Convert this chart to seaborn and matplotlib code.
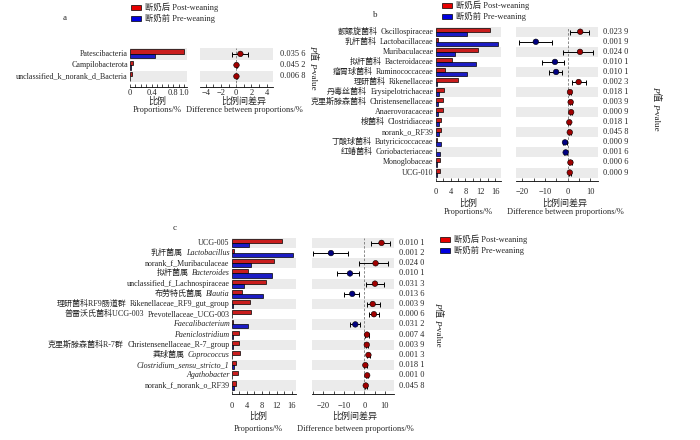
import pandas as pd
import matplotlib
matplotlib.use("Agg")
import matplotlib.pyplot as plt
from matplotlib.patches import Patch
from matplotlib.ticker import MultipleLocator
import seaborn as sns

sns.set_theme(style="white")
plt.rcParams["font.family"] = ["Liberation Serif", "Noto Sans CJK SC"]

POST = "断奶后 Post-weaning"
PRE = "断奶前 Pre-weaning"
RED = "#e60000"
BLUE = "#0000e0"
DOT_RED = "#a00000"
DOT_BLUE = "#000080"
GREY = "#ebebeb"

# panel a - phylum
a_cn = ["", "", ""]
a_lat = ["Patescibacteria", "Campilobacterota", "unclassified_k_norank_d_Bacteria"]
a_ital = [False, False, False]
a_post = [1.0, 0.05, 0.04]
a_pre = [0.46, 0.01, 0.005]
a_diff = [0.55, 0.04, 0.03]
a_lo = [-0.5, -0.05, -0.05]
a_hi = [1.6, 0.13, 0.11]
a_p = ["0.035 6", "0.045 2", "0.006 8"]

# panel b - family
b_cn = ["颤螺旋菌科", "乳杆菌科", "", "拟杆菌科", "瘤胃球菌科", "理研菌科", "丹毒丝菌科",
        "克里斯滕森菌科", "", "梭菌科", "", "丁酸球菌科", "红蝽菌科", "", ""]
b_lat = ["Oscillospiraceae", "Lactobacillaceae", "Muribaculaceae", "Bacteroidaceae",
         "Ruminococcaceae", "Rikenellaceae", "Erysipelotrichaceae", "Christensenellaceae",
         "Anaerovoracaceae", "Clostridiaceae", "norank_o_RF39", "Butyricicoccaceae",
         "Coriobacteriaceae", "Monoglobaceae", "UCG-010"]
b_ital = [False] * 15
b_post = [14.7, 0.5, 11.4, 4.3, 2.6, 6.0, 2.1, 2.0, 2.0, 1.4, 1.3, 0.3, 0.2, 1.2, 1.1]
b_pre = [8.4, 16.8, 5.2, 10.8, 8.5, 0.4, 1.0, 0.7, 0.5, 0.9, 0.8, 1.5, 1.2, 0.3, 0.3]
b_diff = [5.5, -14.0, 5.4, -5.6, -5.1, 4.8, 1.0, 1.3, 1.5, 0.7, 0.9, -1.2, -0.9, 1.2, 0.9]
b_lo = [1.0, -21.3, -2.2, -11.3, -8.0, 2.0, 0.6, 0.8, 1.0, 0.2, 0.4, -2.0, -1.5, 0.7, 0.5]
b_hi = [9.5, -6.9, 11.3, -1.6, -2.3, 8.0, 1.4, 1.8, 2.0, 1.2, 1.4, -0.4, -0.4, 1.7, 1.4]
b_p = ["0.023 9", "0.001 9", "0.024 0", "0.010 1", "0.010 1", "0.002 3", "0.018 1", "0.003 9",
       "0.000 9", "0.018 1", "0.045 8", "0.000 9", "0.001 6", "0.000 6", "0.000 9"]

# panel c - genus
c_cn = ["", "乳杆菌属", "", "拟杆菌属", "", "布劳特氏菌属", "理研菌科RF9肠道群",
        "普雷沃氏菌科UCG-003", "", "", "克里斯滕森菌科R-7群", "粪球菌属", "", "", ""]
c_lat = ["UCG-005", "Lactobacillus", "norank_f_Muribaculaceae", "Bacteroides",
         "unclassified_f_Lachnospiraceae", "Blautia", "Rikenellaceae_RF9_gut_group",
         "Prevotellaceae_UCG-003", "Faecalibacterium", "Paeniclostridium",
         "Christensenellaceae_R-7_group", "Coprococcus", "Clostridium_sensu_stricto_1",
         "Agathobacter", "norank_f_norank_o_RF39"]
c_ital = [False, True, False, True, False, True, False, False, True, True, False, True,
          True, True, False]
c_post = [13.4, 0.5, 11.2, 4.3, 9.2, 2.8, 4.9, 5.2, 0.3, 2.0, 1.9, 2.2, 1.2, 1.7, 1.2]
c_pre = [4.5, 16.4, 5.2, 10.7, 3.3, 8.4, 0.3, 0.1, 4.3, 0.4, 0.4, 0.2, 0.5, 0.1, 0.5]
c_diff = [8.4, -16.3, 5.5, -7.0, 5.2, -5.9, 4.1, 4.7, -4.4, 1.3, 1.2, 2.0, 0.5, 1.4, 0.7]
c_lo = [3.3, -24.9, -2.4, -13.5, 0.8, -9.9, 1.1, 2.4, -7.0, 0.2, 0.6, 1.3, -0.2, 0.9, 0.2]
c_hi = [12.5, -7.8, 11.7, -2.4, 9.8, -2.4, 7.6, 7.3, -2.1, 2.5, 1.8, 2.7, 1.2, 1.9, 1.2]
c_p = ["0.010 1", "0.001 2", "0.024 0", "0.010 1", "0.031 3", "0.013 6", "0.003 9", "0.000 6",
       "0.031 2", "0.007 4", "0.003 9", "0.001 3", "0.018 1", "0.001 0", "0.045 8"]

W, H = 700, 440
fig = plt.figure(figsize=(7, 4.4), dpi=100)


def box(x0, x1, y0, y1):
    return [x0 / W, 1 - y1 / H, (x1 - x0) / W, (y1 - y0) / H]


def style_ax(ax, pad, major, minor, lim):
    ax.set_xlim(*lim)
    ax.xaxis.set_major_locator(major)
    ax.xaxis.set_minor_locator(MultipleLocator(minor))
    for s in ["top", "right", "left"]:
        ax.spines[s].set_visible(False)
    ax.spines["bottom"].set_color("black")
    ax.spines["bottom"].set_linewidth(0.6)
    ax.tick_params(axis="x", which="both", bottom=True, direction="in", length=2,
                   width=0.5, color="black", labelsize=6, pad=pad)
    ax.set_xlabel("")
    ax.set_ylabel("")
    ax.set_facecolor("white")


def panel(bx, dx, y0, y1, cn, lat, ital, post, pre, diff, lo, hi, pvals,
          bar_lim, diff_lim, bar_ticks, bar_minor, diff_step, diff_minor, pad, px, extra):
    n = len(lat)
    ax1 = fig.add_axes(box(bx[0], bx[1], y0, y1))
    ax2 = fig.add_axes(box(dx[0], dx[1], y0, y1))
    df = pd.DataFrame({"name": lat * 2, "value": post + pre,
                       "group": [POST] * n + [PRE] * n})
    sns.barplot(data=df, y="name", x="value", hue="group", hue_order=[POST, PRE],
                palette=[RED, BLUE], orient="h", width=0.8, edgecolor="black",
                linewidth=0.5, errorbar=None, legend=False, ax=ax1, zorder=2)
    ddf = pd.DataFrame({"diff": diff, "pos": range(n),
                        "sign": ["up" if d > 0 else "down" for d in diff]})
    ax2.errorbar(ddf["diff"], ddf["pos"],
                 xerr=[[d - l for d, l in zip(diff, lo)], [h - d for d, h in zip(diff, hi)]],
                 fmt="none", ecolor="black", elinewidth=0.7, capsize=1.8, capthick=0.7, zorder=3)
    sns.scatterplot(data=ddf, x="diff", y="pos", hue="sign",
                    palette={"up": DOT_RED, "down": DOT_BLUE}, s=16, edgecolor="black",
                    linewidth=0.4, legend=False, ax=ax2, zorder=4)
    ax2.axvline(0, color="#777777", ls=(0, (3, 2)), lw=0.6, zorder=1)
    for ax in (ax1, ax2):
        for i in range(0, n, 2):
            ax.axhspan(i - 0.5, i + 0.5, color=GREY, lw=0, zorder=0)
        ax.set_ylim(n - 0.5 + extra, -0.5)
    style_ax(ax1, pad, plt.FixedLocator(bar_ticks), bar_minor, bar_lim)
    style_ax(ax2, pad, MultipleLocator(diff_step), diff_minor, diff_lim)
    if bar_ticks[-1] == 1.0:
        ax1.set_xticklabels(["0", "0.4", "0.8", "1.0"])
    ax1.set_yticks(range(n))
    ax1.set_yticklabels([])
    ax1.tick_params(axis="y", left=False)
    ax2.set_yticks([])
    # row labels: latin part (maybe italic) right-aligned, chinese part to its left
    for i in range(n):
        t = ax1.annotate(lat[i], xy=(0, i), xycoords=ax1.get_yaxis_transform(),
                         xytext=(-1.5, 0), textcoords="offset points", ha="right",
                         va="center", fontsize=5.8,
                         fontstyle="italic" if ital[i] else "normal")
        if cn[i]:
            ax1.annotate(cn[i], xy=(0, 0.5), xycoords=t, xytext=(-2.5, 0),
                         textcoords="offset points", ha="right", va="center", fontsize=5.8)
    for i, p in enumerate(pvals):
        ax2.text(px, i, p, transform=ax2.get_yaxis_transform(), va="center",
                 ha="left", fontsize=6)


panel((130, 187), (200, 273), 48.3, 87.3, a_cn, a_lat, a_ital, a_post, a_pre, a_diff,
      a_lo, a_hi, a_p, (0, 1.055), (-4.76, 4.84), [0, 0.4, 0.8, 1.0], 0.1, 2, 1, 1.0,
      1.096, 0.48)
panel((435.7, 500.7), (516, 598), 26.7, 180.7, b_cn, b_lat, b_ital, b_post, b_pre,
      b_diff, b_lo, b_hi, b_p, (0, 17.5), (-22.7, 13.3), [0, 4, 8, 12, 16], 2, 10, 5,
      5.0, 1.061, 0.31)
panel((231.7, 296), (312.3, 394), 237.8, 394, c_cn, c_lat, c_ital, c_post, c_pre,
      c_diff, c_lo, c_hi, c_p, (0, 17.1), (-25.4, 14.5), [0, 4, 8, 12, 16], 2, 10, 5,
      6.0, 1.061, 0.33)


def ftext(x, y, s, **kw):
    fig.text(x / W, 1 - y / H, s, ha="center", va="center", **kw)


# panel letters
ftext(65, 18.5, "a", fontsize=6.5)
ftext(375, 15, "b", fontsize=6.5)
ftext(175, 228, "c", fontsize=6.5)

# axis titles
for cx, dxc, yy1, yy2 in [(157, 244, 101, 109.5), (468, 565, 203, 211.7),
                          (258, 355, 416.7, 429.3)]:
    ftext(cx, yy1, "比例", fontsize=6.5)
    ftext(cx, yy2, "Proportions/%", fontsize=6)
    ftext(dxc, yy1, "比例间差异", fontsize=6.5)
    ftext(dxc, yy2, "Difference between proportions/%", fontsize=6)

# rotated "P值 P-value" titles, built piece by piece on one baseline so P can be italic
renderer = fig.canvas.get_renderer()
pieces = [("P", "italic", 0.3), ("值", "normal", 2.0), ("P", "italic", 0.3),
          ("-value", "normal", 0)]
for x, ytop in [(310.5, 45), (653.5, 86), (435.5, 302)]:
    y = ytop
    for piece, st, gap in pieces:
        fig.text(x / W, 1 - y / H, piece, rotation=270, rotation_mode="anchor",
                 ha="left", va="baseline", fontsize=6.5, fontstyle=st)
        tmp = fig.text(0, 0, piece, fontsize=6.5, fontstyle=st)
        y += tmp.get_window_extent(renderer).width + gap
        tmp.remove()

# legends
handles = [Patch(facecolor=RED, edgecolor="black", lw=0.5),
           Patch(facecolor=BLUE, edgecolor="black", lw=0.5)]
for x, y in [(131, 3), (442, 1), (440, 235)]:
    fig.legend(handles, [POST, PRE], loc="upper left", bbox_to_anchor=(x / W, 1 - y / H),
               frameon=False, fontsize=6, handlelength=1.2, handleheight=0.6,
               borderpad=0, borderaxespad=0, labelspacing=0.25, handletextpad=0.5)

fig.savefig("out.png", dpi=100)
